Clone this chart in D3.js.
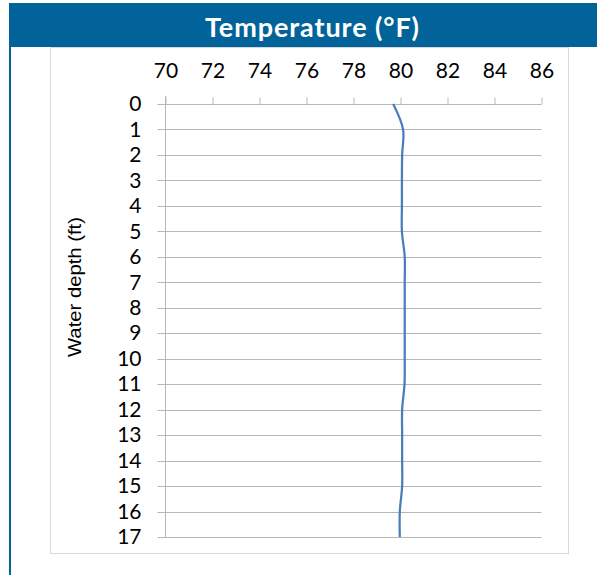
<!DOCTYPE html>
<html>
<head>
<meta charset="utf-8">
<script src="https://cdn.jsdelivr.net/npm/d3@7"></script>
<style>
body { margin: 0; background: #fff; }
svg { display: block; }
</style>
</head>
<body>
<div id="chart"></div>
<script>
var width = 597,
	height = 575;

// data
var depths = [0, 1, 2, 3, 4, 5, 6, 7, 8, 9, 10, 11, 12, 13, 14, 15, 16, 17];
var temps = [79.69, 80.11, 80.07, 80.06, 80.06, 80.06, 80.18, 80.18, 80.18, 80.18, 80.18, 80.17, 80.07, 80.07, 80.07, 80.07, 79.97, 79.97];
var xTicks = [70, 72, 74, 76, 78, 80, 82, 84, 86];

var svg = d3.select('#chart').append('svg')
	.attr('width', width)
	.attr('height', height);

// header band + left rule
svg.append('rect')
	.attr('x', 9).attr('y', 3)
	.attr('width', width - 9).attr('height', 44)
	.style('fill', '#02639a');

svg.append('rect')
	.attr('x', 9).attr('y', 3)
	.attr('width', 2).attr('height', height)
	.style('fill', '#02639a');

svg.append('text')
	.text('Temperature (°F)')
	.attr('x', 312).attr('y', 37)
	.attr('text-anchor', 'middle')
	.attr('textLength', 214)
	.attr('lengthAdjust', 'spacing')
	.style('font-family', 'Lato, sans-serif')
	.style('font-weight', 'bold')
	.style('font-size', '27px')
	.style('fill', '#fff');

// chart box
svg.append('rect')
	.attr('x', 50.5).attr('y', 47.5)
	.attr('width', 518).attr('height', 506)
	.style('fill', 'none')
	.style('stroke', '#d9d9d9')
	.style('stroke-width', 1);

var x = d3.scaleLinear().domain([70, 86]).range([165.5, 541.5]);
var y = d3.scaleLinear().domain([0, 17]).range([104, 537]);

// horizontal gridlines with outer ticks
var grid = svg.append('g');
grid.selectAll('line')
	.data(depths)
	.enter()
	.append('line')
	.attr('x1', x(70) - 8)
	.attr('x2', x(86))
	.attr('y1', function(d) { return Math.round(y(d)) + 0.5; })
	.attr('y2', function(d) { return Math.round(y(d)) + 0.5; })
	.style('stroke', '#b7b7b7')
	.style('stroke-width', 1);

// vertical axis line
svg.append('line')
	.attr('x1', x(70)).attr('x2', x(70))
	.attr('y1', y(0) - 8).attr('y2', y(17))
	.style('stroke', '#b7b7b7');

// top axis ticks + labels
var xAxis = d3.axisTop(x)
	.tickValues(xTicks)
	.tickSize(7)
	.tickPadding(20);

var gx = svg.append('g')
	.attr('transform', 'translate(0,' + (Math.round(y(0)) + 0.5) + ')')
	.call(xAxis);
gx.select('.domain').remove();
gx.selectAll('.tick line').style('stroke', '#b7b7b7');
gx.selectAll('.tick text')
	.style('font-family', 'Lato, sans-serif')
	.style('font-size', '21px')
	.style('fill', '#000');

// left axis labels
var yAxis = d3.axisLeft(y)
	.tickValues(depths)
	.tickSize(0)
	.tickPadding(24);

var gy = svg.append('g')
	.attr('transform', 'translate(' + x(70) + ',0)')
	.call(yAxis);
gy.select('.domain').remove();
gy.selectAll('.tick text')
	.style('font-family', 'Lato, sans-serif')
	.style('font-size', '21px')
	.style('fill', '#000');

// axis title
svg.append('text')
	.text('Water depth (ft)')
	.attr('transform', 'translate(81,287) rotate(-90)')
	.attr('text-anchor', 'middle')
	.attr('textLength', 140)
	.attr('lengthAdjust', 'spacingAndGlyphs')
	.style('font-family', '"Liberation Sans", Arial, sans-serif')
	.style('font-size', '19px')
	.style('fill', '#000');

// temperature profile
var line = d3.line()
	.x(function(d, i) { return x(temps[i]); })
	.y(function(d) { return y(d); })
	.curve(d3.curveCatmullRom);

svg.append('path')
	.datum(depths)
	.attr('d', line)
	.style('fill', 'none')
	.style('stroke', '#4a7ebb')
	.style('stroke-width', 2.25);
</script>
</body>
</html>
